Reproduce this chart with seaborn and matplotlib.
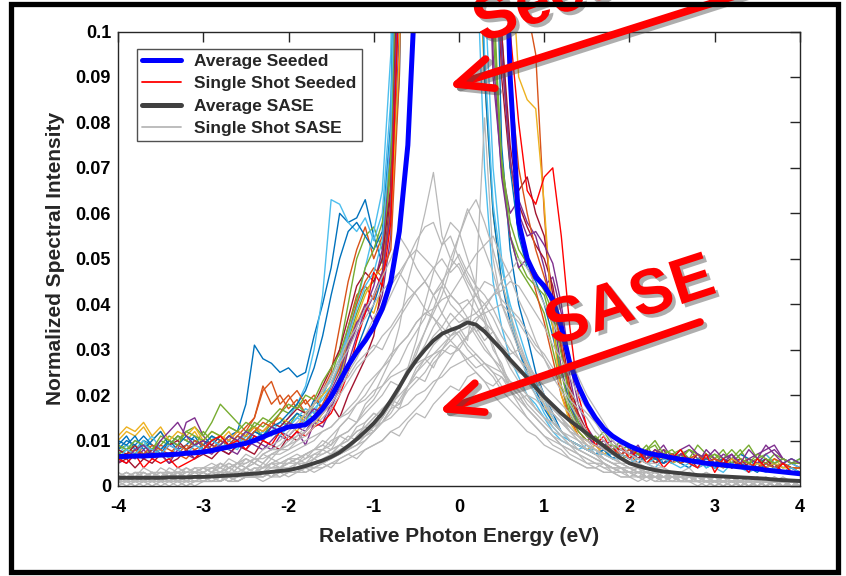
import numpy as np
import pandas as pd
import matplotlib.pyplot as plt
import matplotlib.patheffects as pe
from matplotlib.lines import Line2D
from matplotlib.patches import Rectangle
import seaborn as sns

# photon energy grid (eV), 0.1 eV steps
energy = np.round(np.arange(-40, 41) / 10, 1)

avg_seeded = [6.5, 6.5, 6.6, 6.6, 6.7, 6.8, 6.9, 7.0, 7.2, 7.3,
              7.5, 7.8, 8.2, 8.6, 9.0, 9.4, 10.0, 10.8, 11.6, 12.3,
              13.0, 13.2, 13.5, 15.0, 17.0, 19.6, 23.0, 26.5, 29.5, 32.0,
              35.0, 39.0, 45.0, 56.0, 75.0, 115, 200, 350, 600, 800,
              900, 850, 650, 400, 250, 150, 90, 58, 50, 46,
              44, 41, 35, 27, 22, 18, 15, 12.6, 11, 9.8,
              8.8, 8.0, 7.3, 6.9, 6.6, 6.2, 5.9, 5.6, 5.3, 5.0,
              4.8, 4.6, 4.4, 4.2, 4.0, 3.8, 3.5, 3.3, 3.1, 2.9,
              2.7]

avg_sase = [1.8, 1.8, 1.8, 1.8, 1.8, 1.8, 1.9, 1.9, 1.9, 2.0,
            2.0, 2.1, 2.2, 2.3, 2.4, 2.6, 2.7, 2.9, 3.1, 3.3,
            3.5, 3.9, 4.4, 5.0, 5.6, 6.4, 7.4, 8.8, 10.3, 12.0,
            13.8, 16.0, 18.8, 21.8, 25.0, 27.7, 30.0, 32.0, 33.5, 34.3,
            35.0, 36.0, 35.5, 34.0, 32.0, 30.0, 27.8, 25.8, 23.8, 21.7,
            19.6, 17.8, 16.0, 14.4, 13.0, 11.6, 10.2, 8.8, 7.4, 6.1,
            5.0, 4.4, 3.9, 3.5, 3.2, 3.0, 2.8, 2.6, 2.4, 2.3,
            2.2, 2.1, 2.0, 1.9, 1.8, 1.7, 1.6, 1.4, 1.3, 1.2,
            1.1]

# single seeded shots
seeded_a = [9, 11, 8, 10, 9, 7, 10, 8, 9, 11,
            8, 10, 9, 11, 12, 18, 31, 28, 27, 25,
            26, 24, 25, 33, 40, 48, 60, 58, 59, 63,
            55, 49, 60, 90, 180, 400, 600, 700, 800, 800,
            800, 700, 500, 300, 150, 75, 52, 40, 33, 25,
            20, 16, 12, 10, 9, 8, 7, 8, 6, 7,
            6, 7, 5, 6, 7, 5, 6, 5, 6, 4,
            5, 6, 4, 5, 6, 4, 5, 4, 5, 4,
            4]
seeded_b = [7, 8, 6, 9, 7, 8, 6, 7, 9, 8,
            7, 9, 8, 10, 9, 12, 15, 22, 18, 20,
            17, 19, 16, 18, 21, 25, 35, 45, 52, 57,
            50, 55, 70, 120, 250, 500, 700, 800, 800, 800,
            800, 800, 700, 500, 300, 200, 150, 120, 105, 95,
            60, 35, 22, 15, 12, 10, 9, 7, 8, 6,
            7, 5, 6, 8, 6, 5, 7, 5, 6, 5,
            4, 6, 5, 4, 5, 6, 4, 5, 3, 4,
            3]
seeded_c = [10, 12, 11, 13, 10, 12, 9, 11, 10, 12,
            9, 11, 10, 12, 9, 11, 13, 10, 12, 11,
            14, 12, 15, 13, 16, 20, 24, 30, 36, 40,
            38, 44, 75, 160, 350, 600, 800, 800, 800, 700,
            500, 250, 130, 90, 60, 45, 38, 30, 26, 22,
            18, 14, 12, 10, 9, 8, 9, 7, 8, 6,
            7, 6, 8, 5, 7, 6, 5, 6, 7, 5,
            6, 5, 4, 6, 5, 4, 5, 6, 4, 5,
            4]
seeded_d = [6, 5, 7, 6, 8, 7, 9, 8, 14, 15,
            11, 9, 8, 7, 9, 8, 10, 9, 8, 11,
            10, 12, 9, 14, 13, 17, 22, 30, 35, 40,
            36, 42, 55, 100, 220, 450, 700, 800, 800, 800,
            700, 450, 250, 150, 90, 70, 60, 63, 58, 55,
            48, 38, 26, 18, 13, 11, 9, 10, 8, 9,
            7, 8, 6, 7, 9, 6, 7, 8, 6, 7,
            5, 7, 6, 5, 6, 7, 8, 9, 6, 5,
            4]
seeded_e = [8, 9, 7, 10, 8, 9, 11, 10, 12, 13,
            11, 14, 18, 16, 14, 12, 13, 11, 14, 15,
            13, 16, 14, 18, 20, 24, 30, 40, 50, 55,
            57, 52, 70, 130, 300, 550, 750, 800, 800, 800,
            800, 650, 400, 200, 110, 70, 55, 48, 45, 42,
            38, 30, 22, 16, 12, 10, 11, 9, 8, 10,
            8, 7, 9, 6, 8, 7, 6, 8, 7, 6,
            7, 5, 6, 8, 5, 6, 7, 5, 6, 5,
            5]
seeded_f = [7, 9, 8, 10, 7, 8, 6, 9, 8, 7,
            9, 8, 10, 9, 8, 11, 10, 12, 11, 13,
            15, 18, 22, 30, 42, 63, 62, 58, 56, 59,
            54, 60, 85, 170, 380, 650, 800, 800, 800, 750,
            550, 350, 180, 110, 70, 50, 38, 30, 24, 20,
            16, 13, 11, 10, 9, 8, 8, 7, 7, 6,
            7, 6, 5, 7, 6, 5, 6, 5, 6, 5,
            5, 6, 4, 5, 6, 5, 7, 5, 6, 5,
            6]
seeded_g = [5, 6, 4, 6, 5, 7, 5, 6, 8, 6,
            7, 6, 8, 7, 9, 8, 7, 10, 9, 8,
            11, 10, 12, 14, 16, 18, 15, 20, 24, 28,
            33, 45, 65, 140, 320, 600, 800, 800, 800, 800,
            800, 700, 450, 250, 140, 90, 70, 65, 68, 60,
            55, 42, 30, 20, 15, 12, 10, 9, 8, 7,
            8, 6, 7, 5, 6, 7, 5, 6, 4, 5,
            6, 4, 5, 6, 4, 5, 4, 5, 3, 4,
            3]
seeded_h = [10, 9, 11, 8, 10, 12, 9, 11, 10, 9,
            8, 10, 9, 11, 10, 9, 12, 11, 13, 12,
            14, 16, 15, 19, 17, 20, 23, 26, 30, 35,
            40, 46, 62, 110, 260, 500, 750, 800, 800, 800,
            800, 800, 600, 350, 180, 100, 70, 55, 48, 45,
            40, 33, 25, 18, 14, 11, 10, 9, 8, 7,
            8, 7, 6, 7, 5, 6, 7, 6, 5, 6,
            5, 6, 5, 7, 6, 5, 6, 4, 5, 6,
            5]
seeded_i = [6, 7, 8, 6, 7, 9, 8, 7, 6, 8,
            9, 8, 10, 9, 11, 13, 15, 21, 23, 18,
            20, 17, 19, 16, 18, 22, 27, 35, 42, 44,
            41, 47, 52, 90, 200, 450, 700, 800, 800, 800,
            800, 750, 500, 280, 150, 95, 72, 58, 50, 43,
            36, 28, 20, 15, 11, 10, 9, 8, 9, 7,
            6, 8, 7, 6, 8, 5, 7, 6, 5, 7,
            6, 5, 4, 5, 6, 5, 4, 6, 5, 4,
            4]
seeded_k = [9, 8, 10, 9, 11, 8, 10, 9, 8, 10,
            9, 11, 8, 10, 9, 12, 10, 11, 12, 14,
            13, 15, 17, 16, 20, 24, 28, 34, 40, 48,
            56, 65, 95, 200, 450, 700, 800, 800, 800, 700,
            450, 250, 120, 70, 45, 35, 28, 24, 20, 18,
            15, 12, 10, 9, 8, 9, 7, 8, 6, 7,
            6, 7, 5, 6, 5, 7, 6, 5, 6, 4,
            5, 4, 6, 5, 4, 5, 4, 5, 4, 5,
            4]
seeded_l = [7, 8, 9, 7, 8, 10, 9, 11, 10, 9,
            12, 10, 11, 13, 12, 11, 14, 13, 15, 17,
            16, 18, 16, 15, 17, 19, 24, 32, 38, 43,
            45, 50, 70, 150, 350, 650, 800, 800, 800, 800,
            750, 500, 300, 160, 100, 70, 55, 50, 46, 44,
            42, 35, 25, 17, 13, 11, 10, 12, 9, 8,
            9, 7, 8, 9, 6, 7, 8, 6, 9, 7,
            6, 8, 5, 7, 9, 6, 5, 7, 6, 5,
            6]
seeded_m = [5, 7, 6, 8, 6, 7, 5, 8, 7, 6,
            8, 7, 9, 8, 7, 10, 9, 8, 10, 12,
            11, 13, 12, 15, 14, 18, 21, 27, 33, 39,
            44, 52, 75, 160, 380, 650, 800, 800, 800, 800,
            700, 500, 300, 160, 95, 68, 55, 48, 50, 47,
            44, 46, 38, 24, 15, 11, 9, 8, 9, 7,
            8, 6, 7, 6, 8, 5, 7, 6, 5, 8,
            6, 5, 7, 4, 6, 5, 7, 8, 6, 5,
            5]
seeded_n = [8, 7, 9, 6, 8, 7, 9, 10, 8, 9,
            10, 9, 11, 10, 12, 11, 13, 12, 14, 13,
            15, 17, 16, 18, 22, 26, 30, 37, 44, 47,
            45, 50, 66, 130, 300, 600, 800, 800, 800, 800,
            800, 750, 550, 320, 170, 100, 75, 62, 57, 53,
            50, 44, 33, 22, 16, 12, 10, 9, 8, 8,
            7, 6, 8, 6, 5, 7, 6, 5, 7, 5,
            4, 5, 6, 4, 5, 4, 6, 4, 5, 4,
            4]
seeded_o = [11, 13, 12, 14, 11, 13, 10, 12, 11, 13,
            10, 12, 11, 10, 12, 11, 13, 12, 14, 15,
            14, 13, 16, 18, 20, 22, 26, 31, 37, 42,
            46, 48, 58, 95, 220, 480, 750, 800, 800, 800,
            800, 800, 750, 500, 300, 180, 120, 90, 85, 83,
            62, 35, 20, 14, 11, 9, 8, 7, 8, 6,
            7, 6, 5, 7, 6, 5, 6, 5, 6, 5,
            5, 4, 6, 5, 4, 5, 4, 5, 4, 4,
            4]
seeded_p = [8, 10, 9, 11, 9, 8, 10, 9, 11, 10,
            9, 11, 10, 9, 11, 10, 12, 11, 13, 14,
            16, 18, 21, 26, 33, 42, 50, 56, 58, 55,
            52, 56, 80, 170, 400, 700, 800, 800, 800, 750,
            500, 280, 150, 90, 60, 45, 36, 30, 25, 21,
            17, 14, 12, 10, 9, 8, 7, 8, 6, 7,
            6, 5, 7, 6, 5, 6, 5, 4, 6, 5,
            4, 5, 4, 5, 4, 3, 5, 4, 3, 4,
            3]
seeded_q = [7, 6, 8, 7, 9, 8, 7, 9, 8, 10,
            9, 8, 10, 9, 11, 10, 12, 14, 13, 16,
            19, 21, 18, 20, 17, 22, 26, 33, 40, 45,
            48, 46, 62, 115, 260, 520, 760, 800, 800, 800,
            800, 800, 650, 400, 220, 130, 90, 70, 60, 52,
            46, 40, 31, 21, 15, 12, 10, 9, 8, 7,
            8, 7, 6, 8, 6, 7, 5, 6, 7, 5,
            6, 5, 4, 6, 5, 4, 5, 4, 5, 4,
            4]
seeded_r = [9, 8, 10, 9, 8, 11, 10, 9, 12, 11,
            10, 12, 11, 13, 12, 14, 13, 15, 14, 16,
            18, 17, 20, 19, 23, 26, 29, 35, 41, 48,
            52, 58, 72, 140, 330, 620, 800, 800, 800, 800,
            780, 550, 330, 180, 105, 72, 58, 52, 49, 46,
            43, 38, 29, 19, 14, 11, 10, 9, 9, 8,
            9, 7, 8, 10, 7, 8, 6, 8, 7, 6,
            7, 6, 8, 6, 5, 7, 6, 5, 6, 5,
            5]
seeded_s = [6, 8, 7, 9, 8, 7, 9, 8, 7, 9,
            8, 10, 9, 8, 10, 9, 11, 10, 12, 11,
            13, 15, 14, 17, 19, 22, 27, 33, 39, 44,
            47, 54, 78, 165, 390, 680, 800, 800, 800, 760,
            520, 300, 160, 95, 62, 48, 40, 34, 28, 23,
            19, 15, 12, 10, 9, 8, 7, 7, 6, 6,
            5, 6, 5, 4, 6, 5, 4, 5, 4, 5,
            4, 3, 5, 4, 3, 4, 3, 4, 3, 4,
            3]
seeded_t = [7, 6, 8, 9, 7, 10, 12, 14, 11, 9,
            10, 8, 9, 11, 10, 12, 11, 10, 13, 12,
            14, 13, 15, 17, 16, 21, 25, 31, 36, 38,
            42, 47, 60, 120, 280, 560, 780, 800, 800, 800,
            800, 720, 480, 270, 150, 95, 72, 60, 55, 56,
            53, 49, 40, 27, 18, 13, 10, 9, 10, 8,
            7, 9, 6, 8, 7, 6, 8, 9, 7, 6,
            8, 6, 7, 5, 8, 6, 9, 7, 5, 6,
            5]
seeded_j = [6, 5, 7, 4, 6, 5, 6, 4, 5, 6,
            8, 10, 11, 9, 10, 8, 11, 10, 9, 12,
            10, 12, 11, 13, 14, 16, 20, 25, 32, 38,
            47, 44, 58, 110, 260, 520, 750, 800, 800, 800,
            800, 800, 700, 450, 250, 150, 100, 80, 65, 62,
            68, 70, 55, 35, 20, 13, 9, 11, 7, 9,
            6, 8, 5, 7, 4, 6, 8, 5, 4, 7,
            3, 6, 4, 5, 3, 6, 4, 3, 5, 3,
            3]

# single SASE shots
sase_1 = [2, 1, 3, 2, 1, 2, 3, 1, 2, 2,
          3, 2, 1, 3, 2, 4, 3, 2, 3, 4,
          3, 5, 4, 6, 5, 7, 9, 8, 11, 13,
          12, 15, 18, 17, 22, 25, 28, 26, 30, 33,
          35, 32, 45, 81, 50, 40, 35, 30, 26, 24,
          20, 17, 15, 12, 10, 8, 7, 5, 4, 4,
          3, 4, 2, 3, 2, 3, 1, 2, 2, 1,
          2, 1, 2, 1, 1, 2, 1, 0, 1, 1,
          1]
sase_2 = [1, 2, 1, 1, 2, 3, 2, 1, 2, 3,
          2, 3, 2, 4, 3, 2, 4, 3, 5, 4,
          6, 5, 7, 8, 10, 9, 13, 15, 14, 18,
          20, 24, 28, 35, 45, 52, 60, 69, 55, 50,
          48, 44, 40, 36, 30, 27, 22, 20, 17, 15,
          13, 11, 9, 8, 7, 5, 4, 5, 3, 4,
          2, 3, 2, 1, 2, 3, 1, 2, 1, 2,
          1, 1, 2, 0, 1, 2, 1, 1, 0, 1,
          0]
sase_3 = [2, 3, 2, 1, 3, 2, 2, 3, 1, 2,
          3, 2, 3, 2, 4, 3, 3, 5, 4, 4,
          5, 6, 5, 7, 8, 7, 9, 11, 10, 14,
          16, 15, 19, 22, 25, 30, 34, 38, 42, 48,
          55, 61, 57, 52, 47, 40, 36, 31, 27, 24,
          20, 18, 15, 12, 11, 9, 7, 6, 5, 4,
          3, 4, 3, 2, 3, 2, 2, 3, 1, 2,
          2, 1, 2, 1, 2, 1, 1, 2, 1, 1,
          1]
sase_4 = [1, 0, 1, 2, 1, 1, 0, 1, 2, 1,
          1, 2, 1, 2, 1, 2, 2, 3, 2, 3,
          3, 4, 3, 4, 5, 4, 6, 7, 6, 8,
          9, 10, 12, 11, 14, 16, 15, 18, 20, 22,
          21, 24, 25, 23, 22, 24, 21, 19, 20, 17,
          15, 14, 12, 11, 10, 8, 7, 6, 5, 4,
          4, 3, 3, 2, 3, 2, 2, 1, 2, 1,
          1, 2, 1, 1, 0, 1, 1, 0, 1, 0,
          1]
sase_5 = [2, 1, 2, 3, 2, 2, 1, 3, 2, 3,
          3, 4, 3, 5, 4, 5, 6, 5, 7, 8,
          9, 11, 12, 14, 16, 19, 22, 24, 27, 29,
          31, 30, 34, 37, 40, 43, 45, 48, 50, 47,
          49, 45, 42, 40, 37, 33, 30, 28, 25, 22,
          19, 17, 15, 13, 11, 10, 8, 7, 6, 5,
          5, 4, 3, 4, 3, 2, 3, 2, 2, 3,
          2, 1, 2, 2, 1, 2, 1, 1, 2, 1,
          1]
sase_6 = [1, 1, 2, 1, 0, 1, 2, 1, 1, 2,
          1, 2, 2, 1, 2, 3, 2, 2, 3, 3,
          4, 3, 5, 4, 5, 6, 7, 8, 9, 10,
          12, 14, 16, 19, 22, 26, 28, 31, 33, 36,
          38, 40, 42, 45, 44, 41, 39, 37, 34, 31,
          29, 26, 24, 21, 18, 16, 14, 12, 10, 8,
          7, 6, 5, 5, 4, 3, 3, 4, 2, 3,
          2, 2, 1, 2, 2, 1, 2, 1, 1, 1,
          1]
sase_7 = [2, 3, 2, 2, 3, 1, 2, 3, 2, 4,
          3, 4, 4, 5, 4, 6, 5, 7, 8, 9,
          11, 13, 15, 18, 21, 24, 28, 32, 35, 39,
          42, 46, 50, 55, 52, 48, 45, 42, 38, 35,
          33, 30, 28, 26, 24, 21, 19, 17, 15, 13,
          11, 10, 9, 7, 6, 5, 5, 4, 3, 3,
          2, 3, 2, 2, 1, 2, 2, 1, 2, 1,
          1, 2, 1, 1, 1, 0, 1, 1, 0, 1,
          1]
sase_8 = [1, 2, 1, 1, 2, 1, 1, 2, 1, 2,
          2, 1, 2, 2, 3, 2, 3, 3, 2, 4,
          3, 4, 4, 5, 5, 6, 7, 8, 10, 11,
          13, 14, 17, 18, 21, 23, 25, 28, 30, 32,
          34, 35, 37, 38, 39, 40, 38, 36, 33, 30,
          28, 25, 22, 19, 17, 15, 12, 10, 8, 6,
          5, 5, 4, 3, 3, 2, 3, 2, 2, 1,
          2, 1, 1, 2, 1, 1, 0, 1, 1, 0,
          1]
sase_9 = [0, 1, 1, 0, 1, 2, 1, 1, 0, 1,
          1, 2, 1, 2, 1, 2, 2, 1, 2, 3,
          2, 3, 3, 4, 4, 5, 6, 7, 8, 10,
          12, 14, 17, 21, 26, 32, 40, 47, 53, 58,
          56, 50, 44, 37, 31, 26, 21, 18, 15, 13,
          11, 9, 8, 6, 5, 4, 4, 3, 3, 2,
          2, 1, 2, 1, 1, 2, 1, 1, 0, 1,
          1, 0, 1, 1, 0, 1, 0, 1, 1, 0,
          0]
sase_10 = [2, 3, 2, 4, 3, 2, 3, 2, 3, 3,
           4, 3, 4, 3, 5, 4, 5, 4, 6, 5,
           6, 7, 6, 8, 9, 8, 11, 10, 13, 14,
           16, 15, 19, 18, 22, 24, 23, 27, 29, 31,
           30, 33, 35, 32, 34, 31, 29, 30, 27, 24,
           22, 20, 18, 16, 13, 12, 10, 9, 7, 6,
           5, 5, 4, 4, 3, 3, 2, 3, 2, 2,
           2, 1, 2, 1, 2, 1, 1, 2, 1, 1,
           1]
sase_11 = [1, 1, 0, 1, 1, 2, 1, 0, 1, 1,
           2, 1, 1, 2, 1, 2, 2, 3, 2, 2,
           3, 3, 4, 3, 4, 5, 5, 6, 7, 8,
           9, 10, 12, 13, 15, 17, 19, 22, 25, 28,
           31, 33, 36, 39, 42, 45, 47, 50, 48, 44,
           40, 36, 32, 28, 24, 20, 17, 14, 11, 9,
           7, 6, 5, 4, 4, 3, 3, 2, 2, 2,
           1, 2, 1, 1, 2, 1, 1, 0, 1, 1,
           0]
sase_12 = [3, 2, 2, 3, 2, 3, 3, 2, 4, 3,
           4, 3, 5, 4, 5, 6, 5, 7, 6, 8,
           8, 10, 11, 13, 15, 17, 20, 23, 26, 28,
           30, 33, 35, 38, 41, 43, 45, 42, 44, 40,
           38, 36, 33, 30, 28, 26, 23, 21, 18, 16,
           14, 12, 11, 9, 8, 7, 6, 5, 4, 4,
           3, 3, 2, 3, 2, 2, 2, 1, 2, 1,
           1, 1, 2, 1, 1, 1, 0, 1, 1, 1,
           1]
sase_13 = [1, 2, 2, 1, 2, 1, 3, 2, 2, 1,
           2, 3, 2, 3, 3, 4, 3, 4, 5, 4,
           5, 6, 7, 6, 8, 9, 11, 12, 14, 17,
           19, 22, 25, 27, 31, 34, 37, 42, 45, 48,
           51, 47, 44, 42, 39, 35, 32, 28, 26, 22,
           20, 17, 15, 13, 11, 9, 8, 7, 6, 5,
           4, 3, 4, 3, 2, 2, 3, 2, 1, 2,
           1, 1, 2, 1, 1, 0, 1, 1, 1, 0,
           1]
sase_14 = [2, 2, 1, 2, 3, 2, 2, 1, 2, 2,
           3, 2, 3, 3, 2, 4, 3, 4, 4, 5,
           5, 6, 7, 8, 9, 11, 13, 15, 18, 20,
           23, 26, 28, 31, 33, 36, 38, 37, 35, 33,
           34, 31, 29, 27, 25, 22, 21, 19, 17, 15,
           13, 11, 10, 9, 7, 6, 5, 5, 4, 3,
           3, 2, 3, 2, 2, 1, 2, 2, 1, 1,
           1, 2, 1, 1, 1, 0, 1, 1, 0, 1,
           0]
sase_15 = [1, 2, 1, 2, 2, 1, 2, 3, 2, 2,
           3, 2, 3, 4, 3, 4, 5, 4, 5, 6,
           7, 8, 9, 10, 12, 13, 15, 17, 19, 22,
           24, 26, 29, 31, 33, 36, 38, 39, 41, 42,
           40, 41, 38, 36, 34, 31, 28, 26, 23, 20,
           18, 16, 14, 12, 10, 9, 8, 6, 5, 4,
           4, 3, 3, 2, 2, 3, 2, 1, 2, 1,
           1, 1, 0, 1, 1, 1, 0, 1, 0, 1,
           0]
sase_16 = [2, 1, 1, 2, 1, 2, 1, 1, 2, 1,
           2, 2, 1, 2, 2, 3, 2, 3, 3, 4,
           4, 5, 5, 6, 7, 8, 9, 10, 12, 13,
           15, 17, 19, 22, 25, 28, 31, 35, 38, 42,
           45, 48, 51, 53, 55, 50, 46, 41, 37, 32,
           28, 24, 21, 18, 15, 12, 10, 8, 7, 5,
           4, 4, 3, 3, 2, 2, 2, 1, 2, 1,
           1, 1, 1, 0, 1, 1, 0, 1, 0, 0,
           0]
sase_17 = [2, 2, 3, 2, 3, 2, 4, 3, 3, 4,
           4, 5, 4, 6, 5, 7, 6, 8, 9, 10,
           12, 14, 16, 18, 21, 23, 27, 30, 34, 37,
           40, 43, 45, 47, 44, 42, 39, 37, 34, 32,
           30, 27, 25, 23, 20, 18, 16, 14, 12, 11,
           9, 8, 7, 6, 5, 4, 4, 3, 3, 2,
           2, 2, 1, 2, 1, 1, 2, 1, 1, 0,
           1, 1, 0, 1, 0, 1, 1, 0, 1, 0,
           0]
sase_18 = [3, 2, 3, 3, 2, 4, 3, 3, 4, 3,
           4, 4, 5, 4, 5, 5, 6, 6, 7, 7,
           8, 9, 10, 11, 12, 13, 15, 16, 18, 19,
           21, 22, 24, 25, 26, 27, 28, 29, 30, 29,
           30, 28, 29, 27, 26, 25, 23, 22, 20, 19,
           17, 16, 14, 13, 11, 10, 9, 8, 7, 6,
           5, 5, 4, 4, 3, 3, 3, 2, 2, 2,
           2, 2, 1, 2, 1, 1, 1, 1, 1, 1,
           1]
sase_19 = [1, 1, 0, 1, 1, 0, 1, 1, 1, 0,
           1, 1, 2, 1, 1, 2, 2, 2, 3, 2,
           3, 3, 4, 4, 5, 6, 7, 8, 9, 11,
           13, 15, 18, 21, 25, 29, 34, 39, 44, 50,
           55, 60, 63, 58, 52, 45, 38, 32, 27, 22,
           18, 15, 12, 10, 8, 7, 6, 5, 4, 3,
           3, 2, 2, 2, 1, 2, 1, 1, 1, 1,
           0, 1, 1, 0, 1, 0, 1, 0, 0, 1,
           0]
sase_20 = [1, 2, 2, 1, 3, 2, 1, 2, 2, 3,
           2, 3, 3, 2, 4, 3, 4, 4, 5, 5,
           6, 6, 7, 8, 8, 10, 11, 12, 14, 16,
           18, 20, 23, 22, 26, 28, 30, 33, 35, 38,
           36, 37, 34, 35, 32, 30, 27, 25, 24, 21,
           19, 16, 14, 12, 11, 9, 8, 6, 5, 5,
           4, 3, 3, 2, 2, 2, 1, 2, 1, 1,
           1, 1, 1, 0, 1, 1, 0, 1, 1, 0,
           1]
sase_21 = [2, 3, 2, 2, 3, 3, 2, 4, 3, 3,
           4, 3, 5, 4, 5, 6, 5, 7, 8, 8,
           10, 11, 13, 15, 17, 20, 23, 26, 30, 33,
           37, 40, 44, 47, 50, 52, 50, 48, 45, 42,
           40, 37, 34, 31, 28, 25, 22, 20, 17, 15,
           13, 11, 9, 8, 7, 6, 5, 4, 4, 3,
           3, 2, 2, 2, 1, 2, 1, 1, 1, 1,
           1, 0, 1, 1, 0, 1, 0, 1, 0, 1,
           0]
sase_22 = [1, 1, 1, 2, 1, 1, 2, 1, 1, 2,
           1, 2, 2, 2, 3, 2, 3, 3, 4, 4,
           5, 5, 6, 7, 7, 8, 9, 10, 12, 13,
           15, 17, 18, 20, 22, 25, 27, 29, 31, 33,
           35, 37, 38, 40, 42, 43, 45, 44, 41, 38,
           35, 31, 28, 24, 20, 17, 14, 11, 9, 7,
           6, 5, 4, 4, 3, 3, 2, 2, 2, 1,
           1, 1, 1, 1, 0, 1, 1, 0, 1, 0,
           0]
sase_23 = [1, 0, 1, 1, 0, 1, 1, 1, 0, 1,
           1, 1, 2, 1, 2, 2, 2, 3, 3, 3,
           4, 4, 5, 5, 6, 7, 8, 9, 10, 11,
           12, 14, 15, 17, 18, 20, 21, 23, 24, 26,
           27, 28, 26, 27, 25, 24, 22, 21, 19, 17,
           15, 14, 12, 10, 9, 8, 7, 6, 5, 4,
           3, 3, 2, 2, 2, 1, 1, 1, 1, 1,
           0, 1, 0, 1, 0, 0, 1, 0, 0, 0,
           0]
sase_24 = [2, 2, 1, 3, 2, 2, 3, 2, 3, 3,
           3, 4, 3, 4, 5, 4, 6, 5, 7, 8,
           9, 10, 12, 14, 16, 18, 21, 25, 28, 32,
           35, 38, 42, 46, 50, 54, 57, 58, 53, 55,
           50, 46, 42, 38, 34, 30, 26, 23, 20, 17,
           15, 13, 11, 9, 8, 7, 6, 5, 4, 3,
           3, 2, 2, 2, 2, 1, 1, 1, 1, 1,
           1, 0, 1, 1, 0, 1, 0, 1, 0, 0,
           1]

seeded_shots = [seeded_a, seeded_b, seeded_c, seeded_d, seeded_e, seeded_f, seeded_g,
                seeded_h, seeded_i, seeded_k, seeded_l, seeded_m, seeded_n, seeded_o,
                seeded_p, seeded_q, seeded_r, seeded_s, seeded_t, seeded_j]
sase_shots = [sase_1, sase_2, sase_3, sase_4, sase_5, sase_6, sase_7, sase_8,
              sase_9, sase_10, sase_11, sase_12, sase_13, sase_14, sase_15, sase_16,
              sase_17, sase_18, sase_19, sase_20, sase_21, sase_22, sase_23, sase_24]

legend_labels = ["Average Seeded", "Single Shot Seeded", "Average SASE", "Single Shot SASE"]

# MATLAB default line colours, last shot in pure red
blue, orange, yellow = (0, 0.447, 0.741), (0.85, 0.325, 0.098), (0.929, 0.694, 0.125)
purple, green, cyan, maroon = (0.494, 0.184, 0.556), (0.466, 0.674, 0.188), (0.301, 0.745, 0.933), (0.635, 0.078, 0.184)
shot_colors = [blue, orange, yellow, purple, green, cyan, maroon,
               blue, orange, cyan, green, purple, maroon, yellow,
               blue, orange, green, cyan, purple, (1, 0, 0)]

def to_long(shots, prefix):
    names = [f"{prefix}{i}" for i in range(len(shots))]
    return pd.DataFrame({
        "energy": np.tile(energy, len(shots)),
        "intensity": np.concatenate([np.array(s, dtype=float) for s in shots]) / 1000,
        "shot": np.repeat(names, len(energy)),
    }), names

df_seeded, seeded_names = to_long(seeded_shots, "seeded")
df_sase, sase_names = to_long(sase_shots, "sase")

sns.set_style("white")
plt.rcParams['font.family'] = ['Liberation Sans', 'DejaVu Sans']
plt.rcParams['axes.unicode_minus'] = False

fig = plt.figure(figsize=(8.46, 5.76), dpi=100)
ax = fig.add_axes([0.1395, 0.15625, 0.8061, 0.789])

sase_grey = (0.72, 0.72, 0.72)
sns.lineplot(data=df_seeded, x="energy", y="intensity", hue="shot", hue_order=seeded_names,
             palette=shot_colors, estimator=None, legend=False, lw=1.0, ax=ax)
sns.lineplot(data=df_sase, x="energy", y="intensity", units="shot", estimator=None,
             color=sase_grey, legend=False, lw=0.9, ax=ax)
sns.lineplot(x=energy, y=np.array(avg_seeded) / 1000, color=(0, 0, 1), lw=3.6, ax=ax)
sns.lineplot(x=energy, y=np.array(avg_sase) / 1000, color=(0.25, 0.25, 0.25), lw=2.8, ax=ax)

ax.set_xlim(-4, 4)
ax.set_ylim(0, 0.1)
xticks = [-4, -3, -2, -1, 0, 1, 2, 3, 4]
yticks = [0, 0.01, 0.02, 0.03, 0.04, 0.05, 0.06, 0.07, 0.08, 0.09, 0.1]
ax.set_xticks(xticks)
ax.set_xticklabels([str(t) for t in xticks])
ax.set_yticks(yticks)
ax.set_yticklabels(["0", "0.01", "0.02", "0.03", "0.04", "0.05", "0.06", "0.07", "0.08", "0.09", "0.1"])
ax.tick_params(direction="in", top=True, right=True, length=7, width=1, color="#262626",
               labelsize=13, labelcolor="black")
ax.tick_params(axis="x", pad=9)
ax.tick_params(axis="y", pad=5)
for lab in ax.get_xticklabels() + ax.get_yticklabels():
    lab.set_fontweight("bold")
for sp in ax.spines.values():
    sp.set_visible(True)
    sp.set_color("#262626")
    sp.set_linewidth(1)

ax.set_xlabel("Relative Photon Energy (eV)", fontsize=15, fontweight="bold", labelpad=8)
ax.set_ylabel("Normalized Spectral Intensity", fontsize=15, fontweight="bold", labelpad=8)

handles = [Line2D([], [], color=(0, 0, 1), lw=3.6),
           Line2D([], [], color=(1, 0, 0), lw=1.3),
           Line2D([], [], color=(0.25, 0.25, 0.25), lw=3.6),
           Line2D([], [], color=sase_grey, lw=1.3)]
leg = ax.legend(handles, legend_labels, loc="upper left", bbox_to_anchor=(0.028, 0.9615),
                borderaxespad=0, frameon=True, fancybox=False, edgecolor="#262626",
                prop={"weight": "bold", "size": 12.5}, handlelength=2.2,
                handletextpad=0.8, labelspacing=0.4, borderpad=0.3)
leg.get_frame().set_linewidth(1)

# red annotations with drop shadows
text_fx = [pe.withSimplePatchShadow(offset=(2.5, -2.5), shadow_rgbFace=(0.3, 0.3, 0.3), alpha=0.45)]
arrow_fx = [pe.SimpleLineShadow(offset=(2.5, -2.5), shadow_color=(0.3, 0.3, 0.3), alpha=0.45), pe.Normal()]

fig.text(482 / 846, 1 - 43 / 576, "Seeded", rotation=20, rotation_mode="anchor", ha="left",
         va="baseline", fontsize=46, fontweight="bold", color="red", path_effects=text_fx)
fig.text(553 / 846, 1 - 346 / 576, "SASE", rotation=18, rotation_mode="anchor", ha="left",
         va="baseline", fontsize=46, fontweight="bold", color="red", path_effects=text_fx)

arrow_style = "->,head_length=1.25,head_width=0.55"
ax.annotate("", xy=(448, 576 - 87), xytext=(785, 576 + 20), xycoords="figure pixels",
            textcoords="figure pixels", annotation_clip=False,
            arrowprops=dict(arrowstyle=arrow_style, color="red", lw=5.5, mutation_scale=20,
                            shrinkA=0, shrinkB=0, path_effects=arrow_fx))
ax.annotate("", xy=(438, 576 - 412), xytext=(700, 576 - 322), xycoords="figure pixels",
            textcoords="figure pixels", annotation_clip=False,
            arrowprops=dict(arrowstyle=arrow_style, color="red", lw=5.5, mutation_scale=20,
                            shrinkA=0, shrinkB=0, path_effects=arrow_fx))

# thick black frame around the whole picture
fig.add_artist(Rectangle((11 / 846, 4 / 576), 827 / 846, 568 / 576, transform=fig.transFigure,
                         fill=False, edgecolor="black", lw=3.8, zorder=10))

fig.savefig("out.png", dpi=100, facecolor="white")
